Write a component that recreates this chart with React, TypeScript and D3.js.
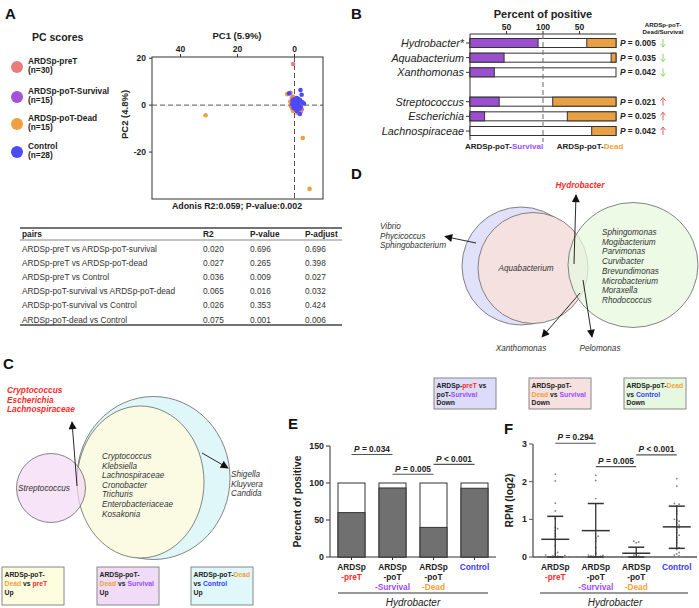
import React from 'react';
import * as d3 from 'd3';

const FONT = 'Arial, "Liberation Sans", Helvetica, sans-serif';
const RED = '#ff2a2a';
const PURPLE = '#9a4dff';
const ORANGE = '#f5a040';
const BLUE = '#3a3aff';

// ---------- Panel A data ----------
const pcaGroups = ['ARDSp-preT', 'ARDSp-poT-Survival', 'ARDSp-poT-Dead', 'Control'];
const pcaCounts = ['(n=30)', '(n=15)', '(n=15)', '(n=28)'];
const pcaColors = ['#e87c7c', '#a452d6', '#f0a040', '#4b4bf5'];
const pcaPreT: [number, number][] = [
  [0.5, 17.5], [1.4, 5.2], [-2.3, -2.4], [-1, -3.2], [0.3, 1.2], [-0.5, 0.3], [0.8, -0.8], [-1.2, 2.1],
  [0.1, -1.5], [-0.3, 2.8], [1, 0.5], [-1.8, 1], [0.6, 3.5], [-0.8, -0.3], [0.2, 0.8], [-1.5, -1.8],
  [1.2, -0.2], [-0.2, 1.8], [0.7, 2.2], [-1.1, -1.1],
];
const pcaSurvival: [number, number][] = [
  [-2.1, -2.8], [-1.5, -1.2], [-0.5, 1.5], [0.2, 0.5], [-1, 2.5], [0.5, -0.8], [-0.8, 0.2], [-2.5, -1.8],
  [0.8, 1.8], [-1.2, -0.5], [-0.3, 3], [0, -1.5], [-1.8, 0.8], [0.4, 2.3], [-0.6, -2.2],
];
const pcaDead: [number, number][] = [
  [31.2, -4.3], [-2.9, -14], [-5.3, -35.7], [2.6, 4.7], [0.8, -1.5], [1.2, -0.5], [-0.5, -1], [0.3, 2],
  [-1, 0.5], [0.5, -2.5], [1.5, 1.5], [-0.2, -0.5], [1, 3], [0, 1], [-0.8, -1.8],
];
const pcaControl: [number, number][] = [
  [-2.1, 6.4], [1.9, 5], [-3.3, 0.7], [-1.9, -3.8], [-2.5, 4.4], [0.2, 2.4], [-0.4, 0.7], [-1, 1.2],
  [-1.5, 0], [-0.2, -0.5], [0.5, 1], [-0.8, 3], [-1.2, -1], [-2, 2], [0, 0], [-0.6, -1.8], [-1.7, 1.5],
  [-0.3, 1.8], [0.8, 0.3], [-1.1, 0.4], [-2.2, -0.6], [-0.9, -2.5], [0.3, -1.2], [-1.4, 2.6], [-0.5, -0.2],
  [-1.8, -1.5], [0.6, 2], [-2.8, 1.2],
];
const pc1Ticks = [40, 20, 0];
const pc2Ticks = [20, 0, -20];

// ---------- Table ----------
const tableHeader = ['pairs', 'R2', 'P-value', 'P-adjust'];
const tablePairs = [
  'ARDSp-preT vs ARDSp-poT-survival',
  'ARDSp-preT vs ARDSp-poT-dead',
  'ARDSp-preT vs Control',
  'ARDSp-poT-survival vs ARDSp-poT-dead',
  'ARDSp-poT-survival vs Control',
  'ARDSp-poT-dead vs Control',
];
const tableR2 = ['0.020', '0.027', '0.036', '0.065', '0.026', '0.075'];
const tablePValue = ['0.696', '0.265', '0.009', '0.016', '0.353', '0.001'];
const tablePAdjust = ['0.696', '0.398', '0.027', '0.032', '0.424', '0.006'];

// ---------- Panel B ----------
const bTaxa = ['Hydrobacter*', 'Aquabacterium', 'Xanthomonas', 'Streptococcus', 'Escherichia', 'Lachnospiraceae'];
const bRowIndex = [0, 1, 2, 4, 5, 6];
const bSurvival = [93.3, 46.7, 33.3, 40, 20, 0];
const bDead = [40, 6.7, 0, 86.7, 66.7, 33.3];
const bP = ['0.005', '0.035', '0.042', '0.021', '0.025', '0.042'];
const bDir = ['down', 'down', 'down', 'up', 'up', 'up'];
const bTicksLeft = [50, 100];
const bTicksRight = [50];

// ---------- Panel C / D ----------
const cRedList = ['Cryptococcus', 'Escherichia', 'Lachnospiraceae'];
const cInner = ['Cryptococcus', 'Klebsiella', 'Lachnospiraceae', 'Cronobacter', 'Trichuris', 'Enterobacteriaceae', 'Kosakonia'];
const cRight = ['Shigella', 'Kluyvera', 'Candida'];
const dLeft = ['Vibrio', 'Phycicoccus', 'Sphingobacterium'];
const dGreen = ['Sphingomonas', 'Mogibacterium', 'Parvimonas', 'Curvibacter', 'Brevundimonas', 'Microbacterium', 'Moraxella', 'Rhodococcus'];

// ---------- Panel E ----------
const eGroups = ['preT', 'Survival', 'Dead', 'Control'];
const ePositive = [60, 93.3, 40, 92.9];
const eTicks = [0, 50, 100, 150];
const eBrackets = [
  { a: 0, b: 1, level: 138.5, label: '= 0.034' },
  { a: 1, b: 2, level: 111.8, label: '= 0.005' },
  { a: 2, b: 3, level: 125.3, label: '< 0.001' },
];

// ---------- Panel F ----------
const fPreT = [2.2, 2.02, 1.43, 1.22, 1.02, 0.78, 0.75, 0.7, 0.62, 0.55, 0.45, 0.3, 0.12, 0.08, 0.05, 0.04, 0.03, 0.02, 0, 0, 0, 0, 0, 0, 0, 0, 0, 0, 0, 0];
const fSurvival = [2.17, 2.03, 1.55, 0.55, 0.5, 0.42, 0.25, 0.1, 0.05, 0.04, 0.03, 0.02, 0.02, 0.01, 0];
const fDead = [0.42, 0.4, 0.38, 0.1, 0.05, 0.02, 0, 0, 0, 0, 0, 0, 0, 0, 0];
const fControl = [2.08, 1.88, 1.42, 1.4, 1.36, 1.22, 1.15, 1.0, 0.98, 0.95, 0.9, 0.85, 0.8, 0.78, 0.72, 0.65, 0.58, 0.52, 0.45, 0.38, 0.25, 0.2, 0.12, 0.08, 0.05, 0.03, 0, 0];
const fMean = [0.47, 0.70, 0.10, 0.80];
const fUpper = [1.08, 1.42, 0.26, 1.35];
const fLower = [0, 0, 0, 0.23];
const fTicks = [0, 1, 2, 3];
const fBrackets = [
  { a: 0, b: 1, level: 3.02, label: '= 0.294' },
  { a: 1, b: 2, level: 2.40, label: '= 0.005' },
  { a: 2, b: 3, level: 2.71, label: '< 0.001' },
];

function GroupLabel({ x, g }: { x: number; g: string }) {
  const fs = 8.3;
  const st = { fontFamily: FONT, fontSize: fs, fontWeight: 700, textAnchor: 'middle' as const };
  if (g === 'preT') return (<g>
    <text x={x} y={570} style={st} fill="#222">ARDSp</text>
    <text x={x} y={580} style={st} fill={RED}>-preT</text>
  </g>);
  if (g === 'Survival') return (<g>
    <text x={x} y={570} style={st} fill="#222">ARDSp</text>
    <text x={x} y={580} style={st} fill="#222">-poT</text>
    <text x={x} y={590} style={st} fill={PURPLE}>-Survival</text>
  </g>);
  if (g === 'Dead') return (<g>
    <text x={x} y={570} style={st} fill="#222">ARDSp</text>
    <text x={x} y={580} style={st} fill="#222">-poT</text>
    <text x={x} y={590} style={st} fill={ORANGE}>-Dead</text>
  </g>);
  return <text x={x} y={570} style={st} fill={BLUE}>Control</text>;
}

function swarm(values: number[], cx: number, y: (v: number) => number, d: number) {
  const placed: { x: number; y: number }[] = [];
  const sorted = [...values].sort((a, b) => a - b);
  for (const v of sorted) {
    const py = y(v);
    let k = 0;
    let px = cx;
    while (true) {
      const off = k === 0 ? 0 : (k % 2 === 1 ? 1 : -1) * Math.ceil(k / 2) * d;
      px = cx + off;
      const clash = placed.some((p) => Math.hypot(p.x - px, p.y - py) < d);
      if (!clash) break;
      k++;
    }
    placed.push({ x: px, y: py });
  }
  return placed;
}

export default function App() {
  // Panel A scales
  const xA = d3.scaleLinear().domain([50, -10]).range([152, 323]);
  const yA = d3.scaleLinear().domain([20.5, -40]).range([57, 199]);
  const pcaSets = [pcaDead, pcaSurvival, pcaPreT, pcaControl];
  const pcaSetColors = [pcaColors[2], pcaColors[1], pcaColors[0], pcaColors[3]];

  // Panel B scales
  const xSurv = d3.scaleLinear().domain([0, 100]).range([470, 543]);
  const xDead = d3.scaleLinear().domain([0, 100]).range([616, 543]);
  const yB = d3.scaleLinear().domain([0, 6]).range([43, 131]);
  const bh = 9;

  // Panel E
  const xE = d3.scalePoint<string>().domain(eGroups).range([331, 495]).padding(0.5);
  const yE = d3.scaleLinear().domain([0, 150]).range([557, 446]);
  const bw = 27;

  // Panel F
  const xF = d3.scalePoint<string>().domain(eGroups).range([535, 697]).padding(0.5);
  const yF = d3.scaleLinear().domain([0, 3]).range([557, 444]);
  const fSets = [fPreT, fSurvival, fDead, fControl];

  const base = { fontFamily: FONT };
  const ital = { fontFamily: FONT, fontStyle: 'italic' as const };

  const arrowUp = (x: number, yc: number, color: string) => (
    <g stroke={color} strokeWidth={0.9} fill="none">
      <line x1={x} y1={yc + 4} x2={x} y2={yc - 4} />
      <polyline points={`${x - 2.5},${yc - 1} ${x},${yc - 4} ${x + 2.5},${yc - 1}`} />
    </g>
  );
  const arrowDown = (x: number, yc: number, color: string) => (
    <g stroke={color} strokeWidth={0.9} fill="none">
      <line x1={x} y1={yc - 4} x2={x} y2={yc + 4} />
      <polyline points={`${x - 2.5},${yc + 1} ${x},${yc + 4} ${x + 2.5},${yc + 1}`} />
    </g>
  );

  return (
    <svg width={699} height={608} style={{ position: 'absolute', left: 0, top: 0, background: '#fff' }}>
      <defs>
        <marker id="ah" viewBox="0 0 10 10" refX="9" refY="5" markerUnits="userSpaceOnUse" markerWidth="9" markerHeight="8" orient="auto">
          <path d="M0,0 L10,5 L0,10 z" fill="#111" />
        </marker>
      </defs>

      {/* ===== Panel letters ===== */}
      {[['A', 5, 19], ['B', 351, 19], ['D', 351, 179], ['C', 3, 369], ['E', 288, 429], ['F', 504, 434]].map(([t, x, y]) => (
        <text key={t as string} x={x as number} y={y as number} style={{ ...base, fontSize: 15, fontWeight: 700 }} fill="#111">{t}</text>
      ))}

      {/* ===== Panel A ===== */}
      <text x={32} y={41} style={{ ...base, fontSize: 10.5, fontWeight: 700 }} fill="#222">PC scores</text>
      {pcaGroups.map((g, i) => {
        const cy = [67, 97, 124, 152][i];
        return (
          <g key={g}>
            <circle cx={17} cy={cy} r={6} fill={pcaColors[i]} />
            <text x={28} y={cy - 3.5} style={{ ...base, fontSize: 8.3, fontWeight: 700 }} fill="#222">{g}</text>
            <text x={28} y={cy + 6} style={{ ...base, fontSize: 8.3, fontWeight: 700 }} fill="#222">{pcaCounts[i]}</text>
          </g>
        );
      })}
      <text x={237} y={39} textAnchor="middle" style={{ ...base, fontSize: 9.5, fontWeight: 700 }} fill="#222">PC1 (5.9%)</text>
      {pc1Ticks.map((t) => (
        <g key={t}>
          <line x1={xA(t)} x2={xA(t)} y1={57} y2={54} stroke="#333" />
          <text x={xA(t)} y={52} textAnchor="middle" style={{ ...base, fontSize: 8.5, fontWeight: 700 }} fill="#222">{t}</text>
        </g>
      ))}
      {pc2Ticks.map((t) => (
        <g key={t}>
          <line x1={152} x2={149} y1={yA(t)} y2={yA(t)} stroke="#333" />
          <text x={146} y={yA(t) + 3} textAnchor="end" style={{ ...base, fontSize: 8.5, fontWeight: 700 }} fill="#222">{t}</text>
        </g>
      ))}
      <text transform={`translate(128,${yA(-4)}) rotate(-90)`} textAnchor="middle" style={{ ...base, fontSize: 9.5, fontWeight: 700 }} fill="#222">PC2 (4.8%)</text>
      <line x1={xA(0)} x2={xA(0)} y1={57} y2={199} stroke="#555" strokeDasharray="5,3" />
      <line x1={152} x2={323} y1={yA(0)} y2={yA(0)} stroke="#555" strokeDasharray="5,3" />
      {pcaSets.map((set, si) => set.map((p, i) => (
        <circle key={`${si}-${i}`} cx={xA(p[0])} cy={yA(p[1])} r={2.3} fill={pcaSetColors[si]} />
      )))}
      <rect x={152} y={57} width={171} height={142} fill="none" stroke="#333" strokeWidth={1} />
      <text x={237} y={209} textAnchor="middle" style={{ ...base, fontSize: 8.8, fontWeight: 700 }} fill="#222">Adonis R2:0.059; P-value:0.002</text>

      {/* Table */}
      <line x1={20} x2={342} y1={228} y2={228} stroke="#444" strokeWidth={1.3} />
      <line x1={20} x2={342} y1={240} y2={240} stroke="#666" strokeWidth={0.8} />
      <line x1={20} x2={342} y1={325} y2={325} stroke="#444" strokeWidth={1.3} />
      {tableHeader.map((h, i) => (
        <text key={h} x={[22, 203, 250, 305][i]} y={237} style={{ ...base, fontSize: 8.3, fontWeight: 700 }} fill="#222">{h}</text>
      ))}
      {tablePairs.map((p, i) => {
        const y = 252 + i * 14.1;
        const st = { ...base, fontSize: 8.3 };
        return (
          <g key={p} fill="#333">
            <text x={22} y={y} style={st}>{p}</text>
            <text x={203} y={y} style={st}>{tableR2[i]}</text>
            <text x={250} y={y} style={st}>{tablePValue[i]}</text>
            <text x={305} y={y} style={st}>{tablePAdjust[i]}</text>
          </g>
        );
      })}

      {/* ===== Panel B ===== */}
      <text x={543} y={18} textAnchor="middle" style={{ ...base, fontSize: 11, fontWeight: 700 }} fill="#222">Percent of positive</text>
      <line x1={470} x2={616} y1={34} y2={34} stroke="#333" />
      {bTicksLeft.map((t) => (
        <g key={`l${t}`}>
          <line x1={xSurv(t)} x2={xSurv(t)} y1={34} y2={31} stroke="#333" />
          <text x={xSurv(t)} y={30} textAnchor="middle" style={{ ...base, fontSize: 8.5, fontWeight: 700 }} fill="#222">{t}</text>
        </g>
      ))}
      {bTicksRight.map((t) => (
        <g key={`r${t}`}>
          <line x1={xDead(t)} x2={xDead(t)} y1={34} y2={31} stroke="#333" />
          <text x={xDead(t)} y={30} textAnchor="middle" style={{ ...base, fontSize: 8.5, fontWeight: 700 }} fill="#222">{t}</text>
        </g>
      ))}
      <line x1={470} x2={470} y1={34} y2={140} stroke="#333" />
      <text x={663} y={27} textAnchor="middle" style={{ ...base, fontSize: 6.2, fontWeight: 700 }} fill="#222">ARDSp-poT-</text>
      <text x={663} y={34} textAnchor="middle" style={{ ...base, fontSize: 6.2, fontWeight: 700 }} fill="#222">Dead/Survival</text>
      {bTaxa.map((t, i) => {
        const yc = yB(bRowIndex[i]);
        return (
          <g key={t}>
            <line x1={466} x2={470} y1={yc} y2={yc} stroke="#333" />
            <text x={464} y={yc + 4} textAnchor="end" style={{ ...ital, fontSize: 10.8 }} fill="#222">{t}</text>
            <rect x={470} y={yc - bh / 2} width={146} height={bh} fill="#fff" stroke="#333" strokeWidth={1} />
            {bSurvival[i] > 0 && <rect x={470} y={yc - bh / 2} width={xSurv(bSurvival[i]) - 470} height={bh} fill="#9a4fd0" stroke="#333" strokeWidth={1} />}
            {bDead[i] > 0 && <rect x={xDead(bDead[i])} y={yc - bh / 2} width={616 - xDead(bDead[i])} height={bh} fill="#e9a043" stroke="#333" strokeWidth={1} />}
            <text x={620} y={yc + 3} style={{ ...base, fontSize: 8.3, fontWeight: 700 }} fill="#222">
              <tspan fontStyle="italic">P</tspan>{` = ${bP[i]}`}
            </text>
            {bDir[i] === 'down' ? arrowDown(663, yc, '#7ed957') : arrowUp(663, yc, '#e05050')}
          </g>
        );
      })}
      <line x1={543} x2={543} y1={34} y2={142} stroke="#777" strokeDasharray="5,3" strokeWidth={1.1} />
      <text x={504} y={149} textAnchor="middle" style={{ ...base, fontSize: 8, fontWeight: 700 }} fill="#222">ARDSp-poT-<tspan fill={PURPLE}>Survival</tspan></text>
      <text x={590} y={149} textAnchor="middle" style={{ ...base, fontSize: 8, fontWeight: 700 }} fill="#222">ARDSp-poT-<tspan fill={ORANGE}>Dead</tspan></text>

      {/* ===== Panel D ===== */}
      <ellipse cx={521} cy={266} rx={59} ry={59} fill="#e1e1fb" stroke="#666" strokeWidth={0.8} />
      <ellipse cx={533} cy={268} rx={55} ry={55.5} fill="#f6e1e1" stroke="#666" strokeWidth={0.8} />
      <ellipse cx={633} cy={265} rx={65} ry={62.5} fill="#e6f8de" fillOpacity={0.75} stroke="#666" strokeWidth={0.8} />
      <text x={526} y={271} textAnchor="middle" style={{ ...ital, fontSize: 8.2 }} fill="#333">Aquabacterium</text>
      {dGreen.map((t, i) => (
        <text key={t} x={602} y={235 + i * 9.7} style={{ ...ital, fontSize: 8.2 }} fill="#333">{t}</text>
      ))}
      {dLeft.map((t, i) => (
        <text key={t} x={380} y={229 + i * 9.5} style={{ ...ital, fontSize: 8.2 }} fill="#333">{t}</text>
      ))}
      <text x={580} y={188} textAnchor="middle" style={{ ...ital, fontSize: 8.3, fontWeight: 700 }} fill={RED}>Hydrobacter</text>
      <line x1={476} y1={243} x2={445} y2={236.5} stroke="#111" strokeWidth={0.9} markerEnd="url(#ah)" />
      <line x1={574} y1={264} x2={576} y2={195} stroke="#111" strokeWidth={0.9} markerEnd="url(#ah)" />
      <line x1={580} y1={293} x2={542} y2={337} stroke="#111" strokeWidth={0.9} markerEnd="url(#ah)" />
      <line x1={583} y1={280} x2={592} y2={337} stroke="#111" strokeWidth={0.9} markerEnd="url(#ah)" />
      <text x={521} y={351} textAnchor="middle" style={{ ...ital, fontSize: 8.2 }} fill="#333">Xanthomonas</text>
      <text x={600} y={351} textAnchor="middle" style={{ ...ital, fontSize: 8.2 }} fill="#333">Pelomonas</text>

      {/* D legend boxes */}
      {[
        { x: 434, fill: '#dcdcfa', lines: [[['ARDSp-', '#222'], ['preT', RED], [' vs', '#222']], [['poT-', '#222'], ['Survival', PURPLE]], [['Down', '#222']]] },
        { x: 529, fill: '#f6e0e0', lines: [[['ARDSp-poT-', '#222']], [['Dead', ORANGE], [' vs ', '#222'], ['Survival', PURPLE]], [['Down', '#222']]] },
        { x: 624, fill: '#e6f9e0', lines: [[['ARDSp-poT-', '#222'], ['Dead', ORANGE]], [['vs ', '#222'], ['Control', BLUE]], [['Down', '#222']]] },
      ].map((b, bi) => (
        <g key={bi}>
          <rect x={b.x} y={378} width={62} height={31} fill={b.fill} stroke="#888" strokeWidth={1} />
          {b.lines.map((ln, li) => (
            <text key={li} x={b.x + 2.5} y={388 + li * 8.6} style={{ ...base, fontSize: 6.8, fontWeight: 700 }}>
              {ln.map(([s, c], k) => <tspan key={k} fill={c as string}>{s as string}</tspan>)}
            </text>
          ))}
        </g>
      ))}

      {/* ===== Panel C ===== */}
      {cRedList.map((t, i) => (
        <text key={t} x={7} y={393 + i * 9.5} style={{ ...ital, fontSize: 8.3, fontWeight: 700 }} fill={RED}>{t}</text>
      ))}
      <ellipse cx={153.5} cy={478} rx={76.5} ry={81.5} fill="#e0f7fa" stroke="#666" strokeWidth={0.8} />
      <ellipse cx={140.5} cy={482} rx={63.5} ry={76} fill="#fbfbe3" stroke="#666" strokeWidth={0.8} />
      <ellipse cx={51} cy={488} rx={34.5} ry={34.5} fill="#f3d8f6" fillOpacity={0.7} stroke="#666" strokeWidth={0.8} />
      <text x={18} y={491} style={{ ...ital, fontSize: 8.2 }} fill="#333">Streptococcus</text>
      {cInner.map((t, i) => (
        <text key={t} x={102} y={459 + i * 9.6} style={{ ...ital, fontSize: 8.2 }} fill="#333">{t}</text>
      ))}
      {cRight.map((t, i) => (
        <text key={t} x={231} y={477 + i * 9.5} style={{ ...ital, fontSize: 8.2 }} fill="#333">{t}</text>
      ))}
      <line x1={77} y1={486} x2={72} y2={422} stroke="#111" strokeWidth={0.9} markerEnd="url(#ah)" />
      <line x1={202} y1={453} x2={228} y2={468} stroke="#111" strokeWidth={0.9} markerEnd="url(#ah)" />
      {[
        { x: 2, fill: '#fdfde0', lines: [[['ARDSp-poT-', '#222']], [['Dead', ORANGE], [' vs ', '#222'], ['preT', RED]], [['Up', '#222']]] },
        { x: 97, fill: '#f1dcf7', lines: [[['ARDSp-poT-', '#222']], [['Dead', ORANGE], [' vs ', '#222'], ['Survival', PURPLE]], [['Up', '#222']]] },
        { x: 191, fill: '#e0f8fa', lines: [[['ARDSp-poT-', '#222'], ['Dead', ORANGE]], [['vs ', '#222'], ['Control', BLUE]], [['Up', '#222']]] },
      ].map((b, bi) => (
        <g key={bi}>
          <rect x={b.x} y={567} width={62} height={38} fill={b.fill} stroke="#888" strokeWidth={1} />
          {b.lines.map((ln, li) => (
            <text key={li} x={b.x + 2.5} y={577 + li * 9.2} style={{ ...base, fontSize: 6.8, fontWeight: 700 }}>
              {ln.map(([s, c], k) => <tspan key={k} fill={c as string}>{s as string}</tspan>)}
            </text>
          ))}
        </g>
      ))}

      {/* ===== Panel E ===== */}
      <text transform={`translate(301,${yE(75)}) rotate(-90)`} textAnchor="middle" style={{ ...base, fontSize: 10.3, fontWeight: 700 }} fill="#222">Percent of positive</text>
      <line x1={330} x2={330} y1={yE(150)} y2={yE(0)} stroke="#333" />
      <line x1={330} x2={496} y1={yE(0)} y2={yE(0)} stroke="#333" />
      {eTicks.map((t) => (
        <g key={t}>
          <line x1={326} x2={330} y1={yE(t)} y2={yE(t)} stroke="#333" />
          <text x={324} y={yE(t) + 3} textAnchor="end" style={{ ...base, fontSize: 8.8, fontWeight: 700 }} fill="#222">{t}</text>
        </g>
      ))}
      {eGroups.map((g, i) => {
        const cx = xE(g)!;
        return (
          <g key={g}>
            <rect x={cx - bw / 2} y={yE(100)} width={bw} height={yE(0) - yE(100)} fill="#fff" stroke="#333" strokeWidth={1} />
            <rect x={cx - bw / 2} y={yE(ePositive[i])} width={bw} height={yE(0) - yE(ePositive[i])} fill="#707070" stroke="#333" strokeWidth={1} />
            <line x1={cx} x2={cx} y1={yE(0)} y2={yE(0) + 3} stroke="#333" />
            <GroupLabel x={cx} g={g} />
          </g>
        );
      })}
      {eBrackets.map((b, i) => {
        const x1 = xE(eGroups[b.a])!, x2 = xE(eGroups[b.b])!;
        const y = yE(b.level);
        return (
          <g key={i}>
            <line x1={x1} x2={x2} y1={y} y2={y} stroke="#555" strokeWidth={1.2} />
            <text x={(x1 + x2) / 2} y={y - 2.5} textAnchor="middle" style={{ ...base, fontSize: 8.3, fontWeight: 700 }} fill="#222">
              <tspan fontStyle="italic">P</tspan>{` ${b.label}`}
            </text>
          </g>
        );
      })}
      <line x1={338} x2={488} y1={593} y2={593} stroke="#333" />
      <text x={413} y={606} textAnchor="middle" style={{ ...ital, fontSize: 10 }} fill="#222">Hydrobacter</text>

      {/* ===== Panel F ===== */}
      <text transform={`translate(513,${yF(1.5)}) rotate(-90)`} textAnchor="middle" style={{ ...base, fontSize: 10.3, fontWeight: 700 }} fill="#222">RPM (log2)</text>
      <line x1={533} x2={533} y1={yF(3)} y2={yF(0)} stroke="#555" strokeWidth={1.3} />
      <line x1={533} x2={697} y1={yF(0)} y2={yF(0)} stroke="#555" strokeWidth={1.3} />
      {fTicks.map((t) => (
        <g key={t}>
          <line x1={529} x2={533} y1={yF(t)} y2={yF(t)} stroke="#555" />
          <text x={527} y={yF(t) + 3} textAnchor="end" style={{ ...base, fontSize: 8.8, fontWeight: 700 }} fill="#222">{t}</text>
        </g>
      ))}
      {eGroups.map((g, i) => {
        const cx = xF(g)!;
        const pts = swarm(fSets[i], cx, (v) => yF(v), 2.4);
        return (
          <g key={g}>
            {pts.map((p, k) => <circle key={k} cx={p.x} cy={p.y} r={0.95} fill="#8a8a8a" />)}
            <line x1={cx} x2={cx} y1={yF(fLower[i])} y2={yF(fUpper[i])} stroke="#333" strokeWidth={1.3} />
            <line x1={cx - 14} x2={cx + 14} y1={yF(fMean[i])} y2={yF(fMean[i])} stroke="#333" strokeWidth={1.5} />
            <line x1={cx - 8} x2={cx + 8} y1={yF(fUpper[i])} y2={yF(fUpper[i])} stroke="#333" strokeWidth={1.5} />
            <line x1={cx - 8} x2={cx + 8} y1={yF(fLower[i])} y2={yF(fLower[i])} stroke="#333" strokeWidth={1.5} />
            <GroupLabel x={cx} g={g} />
          </g>
        );
      })}
      {fBrackets.map((b, i) => {
        const x1 = xF(eGroups[b.a])!, x2 = xF(eGroups[b.b])!;
        const y = yF(b.level);
        return (
          <g key={i}>
            <line x1={x1} x2={x2} y1={y} y2={y} stroke="#555" strokeWidth={1.2} />
            <text x={(x1 + x2) / 2} y={y - 3} textAnchor="middle" style={{ ...base, fontSize: 8.3, fontWeight: 700 }} fill="#222">
              <tspan fontStyle="italic">P</tspan>{` ${b.label}`}
            </text>
          </g>
        );
      })}
      <line x1={540} x2={688} y1={593} y2={593} stroke="#333" />
      <text x={615} y={606} textAnchor="middle" style={{ ...ital, fontSize: 10 }} fill="#222">Hydrobacter</text>
    </svg>
  );
}
